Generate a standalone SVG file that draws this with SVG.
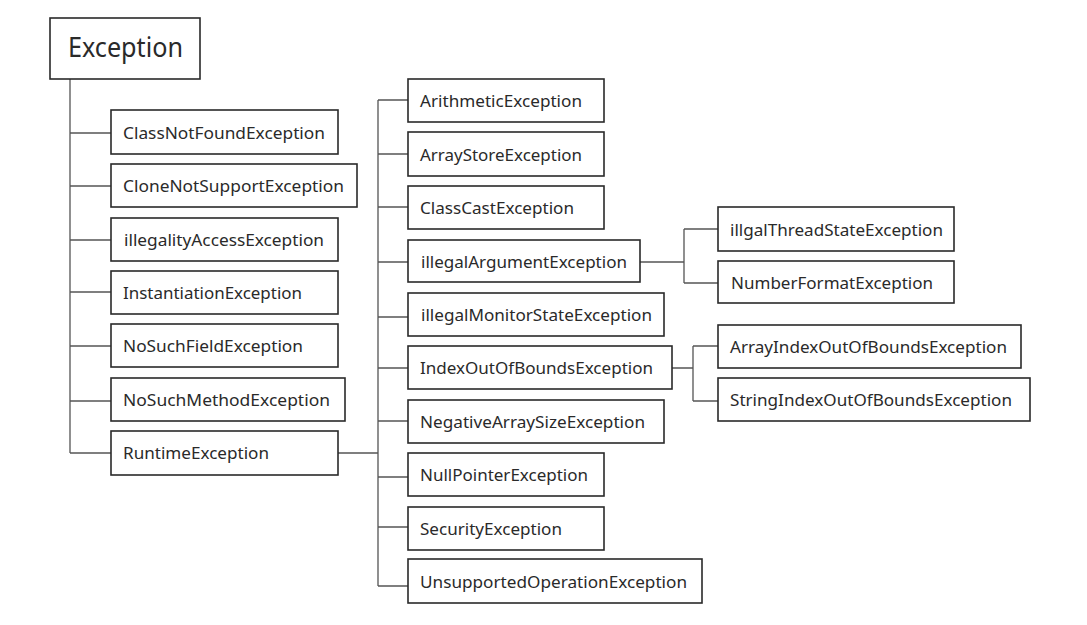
<svg xmlns="http://www.w3.org/2000/svg" width="1087" height="625" viewBox="0 0 1087 625">
<style>
.b{fill:#fff;stroke:#2a2a2a;stroke-width:1.6}
.t{font-family:"Noto Sans","Open Sans",sans-serif;font-size:17px;fill:#2a2a2a}
.big{font-size:28px}
.c{fill:none;stroke:#555;stroke-width:1.3}
</style>
<rect width="1087" height="625" fill="#fff"/>
<g id="connectors">
<path class="c" d="M70 79V453M70 133H111M70 186H111M70 240H111M70 292H111M70 346H111M70 401H111M70 453H111"/>
<path class="c" d="M338 453H378M378 100V586M378 100H408M378 154H408M378 207H408M378 262H408M378 317H408M378 368H408M378 421H408M378 477H408M378 527H408M378 586H408"/>
<path class="c" d="M640 262H684M684 229V283M684 229H718M684 283H718"/>
<path class="c" d="M672 368H693M693 346V401M693 346H718M693 401H718"/>
</g>
<g id="exception"><rect class="b" x="50" y="18" width="150" height="61"/><text class="t big" x="68" y="57" textLength="115" lengthAdjust="spacingAndGlyphs">Exception</text></g>
<g id="classnotfound"><rect class="b" x="111" y="110" width="227" height="44"/><text class="t" x="123" y="139" textLength="202" lengthAdjust="spacingAndGlyphs">ClassNotFoundException</text></g>
<g id="clonenotsupport"><rect class="b" x="111" y="164" width="246" height="43"/><text class="t" x="123" y="192" textLength="221" lengthAdjust="spacingAndGlyphs">CloneNotSupportException</text></g>
<g id="illegalityaccess"><rect class="b" x="111" y="218" width="227" height="43"/><text class="t" x="124" y="246" textLength="200" lengthAdjust="spacingAndGlyphs">illegalityAccessException</text></g>
<g id="instantiation"><rect class="b" x="111" y="271" width="227" height="43"/><text class="t" x="123" y="299" textLength="179" lengthAdjust="spacingAndGlyphs">InstantiationException</text></g>
<g id="nosuchfield"><rect class="b" x="111" y="324" width="227" height="43"/><text class="t" x="123" y="352" textLength="180" lengthAdjust="spacingAndGlyphs">NoSuchFieldException</text></g>
<g id="nosuchmethod"><rect class="b" x="111" y="378" width="234" height="43"/><text class="t" x="123" y="406" textLength="207" lengthAdjust="spacingAndGlyphs">NoSuchMethodException</text></g>
<g id="runtime"><rect class="b" x="111" y="431" width="227" height="44"/><text class="t" x="123" y="459" textLength="146" lengthAdjust="spacingAndGlyphs">RuntimeException</text></g>
<g id="arithmetic"><rect class="b" x="408" y="79" width="196" height="43"/><text class="t" x="420" y="107" textLength="162" lengthAdjust="spacingAndGlyphs">ArithmeticException</text></g>
<g id="arraystore"><rect class="b" x="408" y="132" width="196" height="44"/><text class="t" x="420" y="161" textLength="162" lengthAdjust="spacingAndGlyphs">ArrayStoreException</text></g>
<g id="classcast"><rect class="b" x="408" y="186" width="196" height="43"/><text class="t" x="420" y="214" textLength="154" lengthAdjust="spacingAndGlyphs">ClassCastException</text></g>
<g id="illegalargument"><rect class="b" x="408" y="240" width="232" height="42"/><text class="t" x="421" y="268" textLength="206" lengthAdjust="spacingAndGlyphs">illegalArgumentException</text></g>
<g id="illegalmonitorstate"><rect class="b" x="408" y="293" width="256" height="43"/><text class="t" x="421" y="321" textLength="231" lengthAdjust="spacingAndGlyphs">illegalMonitorStateException</text></g>
<g id="indexoutofbounds"><rect class="b" x="408" y="346" width="264" height="43"/><text class="t" x="420" y="374" textLength="233" lengthAdjust="spacingAndGlyphs">IndexOutOfBoundsException</text></g>
<g id="negativearraysize"><rect class="b" x="408" y="400" width="256" height="43"/><text class="t" x="420" y="428" textLength="225" lengthAdjust="spacingAndGlyphs">NegativeArraySizeException</text></g>
<g id="nullpointer"><rect class="b" x="408" y="453" width="196" height="43"/><text class="t" x="420" y="481" textLength="168" lengthAdjust="spacingAndGlyphs">NullPointerException</text></g>
<g id="security"><rect class="b" x="408" y="507" width="196" height="43"/><text class="t" x="420" y="535" textLength="142" lengthAdjust="spacingAndGlyphs">SecurityException</text></g>
<g id="unsupportedoperation"><rect class="b" x="408" y="559" width="294" height="44"/><text class="t" x="420" y="588" textLength="267" lengthAdjust="spacingAndGlyphs">UnsupportedOperationException</text></g>
<g id="illgalthreadstate"><rect class="b" x="718" y="207" width="236" height="44"/><text class="t" x="730" y="236" textLength="213" lengthAdjust="spacingAndGlyphs">illgalThreadStateException</text></g>
<g id="numberformat"><rect class="b" x="718" y="261" width="236" height="42"/><text class="t" x="731" y="289" textLength="202" lengthAdjust="spacingAndGlyphs">NumberFormatException</text></g>
<g id="arrayindexoutofbounds"><rect class="b" x="718" y="325" width="303" height="43"/><text class="t" x="730" y="353" textLength="277" lengthAdjust="spacingAndGlyphs">ArrayIndexOutOfBoundsException</text></g>
<g id="stringindexoutofbounds"><rect class="b" x="718" y="378" width="312" height="43"/><text class="t" x="730" y="406" textLength="282" lengthAdjust="spacingAndGlyphs">StringIndexOutOfBoundsException</text></g>
</svg>
